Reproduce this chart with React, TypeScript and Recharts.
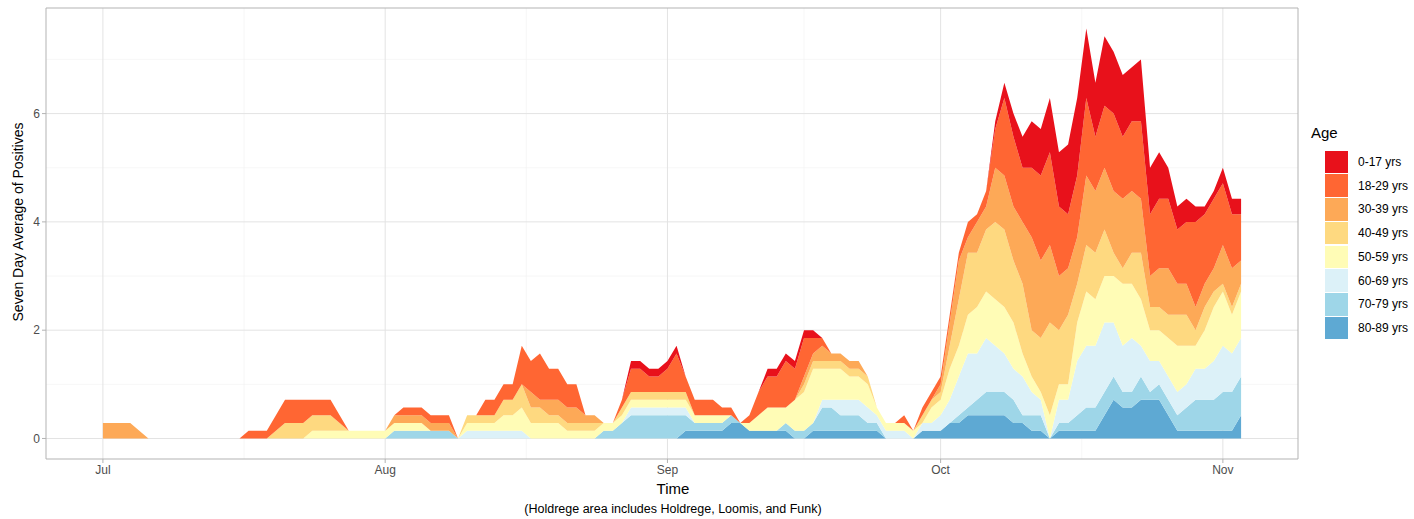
import React from 'react';
import { AreaChart, Area, XAxis, YAxis, CartesianGrid, ReferenceArea } from 'recharts';

const FONT = '"Liberation Sans", Arial, Helvetica, sans-serif';

// Days since Jul 1 (x categories), 7-day averages, in units of 1/7 case
const ageNames = ['80-89 yrs', '70-79 yrs', '60-69 yrs', '50-59 yrs', '40-49 yrs', '30-39 yrs', '18-29 yrs', '0-17 yrs'];
const ageColors = ['#5EA9D3', '#9ED6E8', '#DCF1F8', '#FFFCB6', '#FED980', '#FDA957', '#FF6633', '#E8111B'];

const a80 = [
  0,0,0,0,0,0,0,0,0,0, 0,0,0,0,0,0,0,0,0,0, 0,0,0,0,0,0,0,0,0,0, 0,0,0,0,0,0,0,0,0,0,
  0,0,0,0,0,0,0,0,0,0, 0,0,0,0,0,0,0,0,0,0, 0,0,0,0,1,1,1,1,1,2, 2,1,1,1,1,1,0,0,1,1,
  1,1,1,1,1,1,0,0,0,0, 1,1,1,2,2,3,3,3,3,3, 2,2,1,1,0,1,1,1,1,1, 3,5,4,4,5,5,5,3,1,1,
  1,1,1,1,1,3,
];
const a70 = [
  0,0,0,0,0,0,0,0,0,0, 0,0,0,0,0,0,0,0,0,0, 0,0,0,0,0,0,0,0,0,0, 0,0,1,1,1,1,1,1,1,0,
  0,0,0,0,0,0,0,0,0,0, 0,0,0,0,0,1,1,2,3,3, 3,3,3,3,2,1,1,1,1,1, 0,0,0,0,0,1,1,1,1,3,
  3,2,2,2,1,1,0,0,0,0, 0,0,0,0,1,1,2,3,3,3, 3,1,2,2,0,1,1,2,3,3, 3,3,2,2,3,1,2,2,2,3,
  4,4,4,5,5,5,
];
const a60 = [
  0,0,0,0,0,0,0,0,0,0, 0,0,0,0,0,0,0,0,0,0, 0,0,0,0,0,0,0,0,0,0, 0,0,0,0,0,0,0,0,0,0,
  1,1,1,1,1,1,1,0,0,0, 0,0,0,0,0,0,0,0,1,1, 1,1,1,1,1,0,0,0,0,0, 0,0,0,0,0,0,0,0,0,1,
  1,2,2,2,2,1,1,1,1,0, 1,1,2,3,5,7,6,7,6,5, 4,5,3,2,0,3,3,7,8,8, 9,7,6,7,4,4,3,3,3,3,
  4,4,5,6,5,5,
];
const a50 = [
  0,0,0,0,0,0,0,0,0,0, 0,0,0,0,0,0,0,0,0,0, 0,0,0,1,1,1,1,1,1,1, 1,1,1,1,1,1,0,0,0,0,
  1,1,1,1,2,2,3,2,2,2, 2,1,1,1,1,1,1,1,1,1, 1,1,1,1,1,1,1,1,1,0, 0,1,2,3,3,2,4,5,7,4,
  4,4,3,3,3,1,1,1,1,1, 0,2,2,4,4,5,6,6,6,6, 6,3,2,1,3,2,2,5,7,6, 6,6,8,7,6,4,4,5,6,5,
  3,5,7,7,5,6,
];
const a40 = [
  0,0,0,0,0,0,0,0,0,0, 0,0,0,0,0,0,0,0,0,1, 2,2,2,2,2,2,1,0,0,0, 0,0,0,0,0,0,0,0,0,0,
  1,1,1,1,2,2,3,2,2,1, 1,1,1,1,1,0,0,1,1,1, 1,1,1,1,1,0,0,0,0,0, 0,0,0,0,0,0,0,1,1,1,
  1,1,1,1,1,0,0,0,0,0, 1,1,1,3,6,8,7,8,10,10, 8,9,6,7,12,7,9,5,6,6, 6,3,2,4,6,3,3,3,4,4,
  2,3,2,1,1,1,
];
const a30 = [
  2,2,2,2,1,0,0,0,0,0, 0,0,0,0,0,0,0,0,0,0, 0,0,0,0,0,0,0,0,0,0, 0,0,1,1,1,1,1,1,1,0,
  0,0,0,0,0,0,0,2,1,2, 2,2,2,1,1,0,0,0,0,0, 0,0,0,0,0,0,0,0,0,0, 0,0,0,0,0,0,0,1,1,2,
  1,1,1,1,0,0,0,0,0,0, 0,0,1,3,5,2,4,3,7,7, 7,8,12,10,10,7,6,6,9,8, 8,8,9,8,7,4,5,6,4,4,
  3,3,3,5,5,3,
];
const a18 = [
  0,0,0,0,0,0,0,0,0,0, 0,0,0,0,0,0,1,1,1,2, 3,3,3,2,2,2,1,0,0,0, 0,0,0,1,1,1,1,1,1,0,
  0,0,2,2,2,2,5,4,6,4, 4,3,3,0,0,0,0,1,3,3, 2,2,3,5,2,2,2,2,1,1, 0,1,3,4,4,6,4,5,2,1,
  0,0,0,0,0,0,0,0,1,0, 1,1,1,1,1,2,1,2,5,10, 9,7,9,11,12,9,7,8,10,7, 8,10,8,9,10,8,9,9,7,8,
  11,9,9,8,7,6,
];
const a0 = [
  0,0,0,0,0,0,0,0,0,0, 0,0,0,0,0,0,0,0,0,0, 0,0,0,0,0,0,0,0,0,0, 0,0,0,0,0,0,0,0,0,0,
  0,0,0,0,0,0,0,0,0,0, 0,0,0,0,0,0,0,0,1,1, 1,1,1,1,0,0,0,0,0,0, 0,0,0,1,1,1,1,1,1,0,
  0,0,0,0,0,0,0,0,0,0, 0,0,0,0,0,0,0,0,1,2, 3,4,6,6,7,7,9,10,9,7, 9,8,8,7,8,6,6,4,3,3,
  2,1,1,2,2,2,
];

const seriesCounts = [a80, a70, a60, a50, a40, a30, a18, a0];
const seriesKeys = ['s80', 's70', 's60', 's50', 's40', 's30', 's18', 's0'];

const monthTickDays = [0, 31, 62, 92, 123];
const monthTickLabels = ['Jul', 'Aug', 'Sep', 'Oct', 'Nov'];
const minorDays = [15.5, 46.5, 77, 107.5];
const yMajor = [0, 2, 4, 6];
const yMinor = [1, 3, 5, 7];
const xDomain = [-6.25, 131.25];
const yDomain = [-0.379, 7.95];

const rows = a0.map((_, day) => {
  const r: Record<string, number> = { day };
  seriesKeys.forEach((k, i) => {
    r[k] = seriesCounts[i][day] / 7;
  });
  return r;
});

const tickStyle = { fill: '#4D4D4D', fontSize: 12, fontFamily: FONT };

export default function App() {
  const legendOrder = [...ageNames.map((n, i) => ({ n, c: ageColors[i] }))].reverse();
  return (
    <div style={{ position: 'absolute', left: 0, top: 0, width: 1414, height: 519, background: '#fff', fontFamily: FONT }}>
      <AreaChart width={1414} height={519} data={rows} margin={{ top: 8, right: 116, bottom: 40, left: 0 }}>
        <CartesianGrid verticalValues={minorDays} horizontalValues={yMinor} stroke="#F3F3F3" strokeWidth={0.7} />
        <CartesianGrid verticalValues={monthTickDays} horizontalValues={yMajor} stroke="#E3E3E3" strokeWidth={1} />
        <XAxis
          dataKey="day"
          type="number"
          domain={xDomain}
          allowDataOverflow
          ticks={monthTickDays}
          tickFormatter={(v: number) => monthTickLabels[monthTickDays.indexOf(v)] ?? ''}
          height={20}
          axisLine={false}
          tickLine={{ stroke: '#B3B3B3' }}
          tickSize={4}
          tickMargin={2}
          tick={tickStyle}
          interval={0}
        />
        <YAxis
          type="number"
          domain={yDomain}
          allowDataOverflow
          ticks={yMajor}
          width={46}
          axisLine={false}
          tickLine={{ stroke: '#B3B3B3' }}
          tickSize={4}
          tickMargin={2}
          tick={tickStyle}
          interval={0}
        />
        {seriesKeys.map((k, i) => (
          <Area
            key={k}
            type="linear"
            dataKey={k}
            name={ageNames[i]}
            stackId="age"
            fill={ageColors[i]}
            fillOpacity={1}
            stroke="none"
            dot={false}
            activeDot={false}
            isAnimationActive={false}
          />
        ))}
        <ReferenceArea
          x1={xDomain[0]}
          x2={xDomain[1]}
          y1={yDomain[0]}
          y2={yDomain[1]}
          fill="none"
          fillOpacity={0}
          stroke="#B3B3B3"
          strokeWidth={1}
          ifOverflow="visible"
        />
      </AreaChart>

      <div style={{ position: 'absolute', left: 18, top: 222, transform: 'translate(-50%, -50%) rotate(-90deg)', whiteSpace: 'nowrap', fontSize: 14, color: '#000' }}>
        Seven Day Average of Positives
      </div>
      <div style={{ position: 'absolute', left: 673, top: 488, transform: 'translate(-50%, -50%)', whiteSpace: 'nowrap', fontSize: 15, color: '#000' }}>
        Time
      </div>
      <div style={{ position: 'absolute', left: 673, top: 509, transform: 'translate(-50%, -50%)', whiteSpace: 'nowrap', fontSize: 12.5, color: '#000' }}>
        (Holdrege area includes Holdrege, Loomis, and Funk)
      </div>

      <div style={{ position: 'absolute', left: 1311, top: 124, fontSize: 15, color: '#000', lineHeight: '18px' }}>Age</div>
      <div style={{ position: 'absolute', left: 1325, top: 150 }}>
        {legendOrder.map((e) => (
          <div key={e.n} style={{ display: 'flex', alignItems: 'center', height: 23.75 }}>
            <div style={{ width: 23, height: 22.5, background: e.c }} />
            <div style={{ marginLeft: 10, fontSize: 12, color: '#000', whiteSpace: 'nowrap' }}>{e.n}</div>
          </div>
        ))}
      </div>
    </div>
  );
}
